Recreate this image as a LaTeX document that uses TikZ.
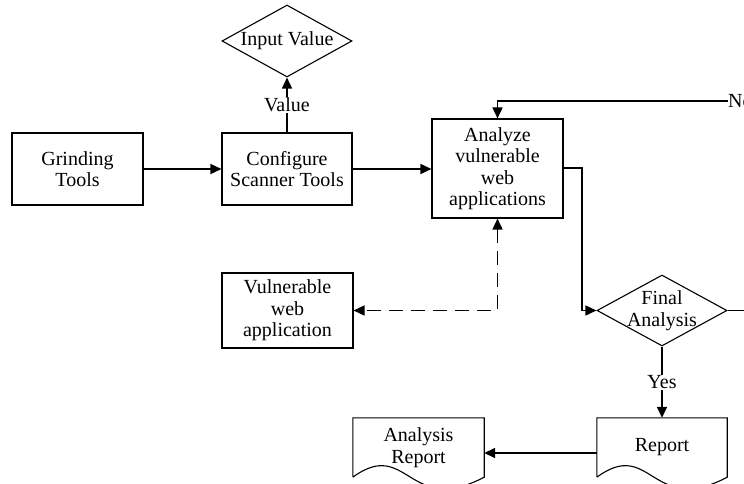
\documentclass[tikz,border=0pt]{standalone}
\usepackage{fontspec}
\setmainfont{Liberation Serif}
\usetikzlibrary{shapes.geometric,arrows.meta,calc}
\begin{document}
\begin{tikzpicture}[x=1pt,y=1pt,
  font=\fontsize{20}{21.5}\selectfont,
  boxnode/.style={draw,line width=1.1pt,rectangle,inner sep=0pt,align=center,minimum width=131pt},
  decision/.style={draw,line width=1.1pt,diamond,inner sep=0pt,minimum width=130pt,minimum height=72pt,aspect=1.8},
  dtext/.style={inner sep=0pt,align=center},
  docnode/.style={rectangle,inner sep=0pt,align=center,minimum width=131pt,minimum height=59pt},
  docline/.style={line width=1.1pt},
  conn/.style={line width=1.6pt,-{Triangle[length=11pt,width=10pt]}},
  dconn/.style={line width=1.6pt,dash pattern=on 14pt off 8pt,{Triangle[length=11pt,width=10pt]}-{Triangle[length=11pt,width=10pt]}},
  lbl/.style={fill=white,inner sep=1pt}]
\useasboundingbox (0,0) rectangle (744,-484);
\fill[white] (0,0) rectangle (744,-484);

\node[decision] (inval) at (287,-41) {};
\node[dtext] (invaltxt) at (inval) {Input Value};
\node[boxnode,minimum height=72pt] (grind) at (77.5,-169) {Grinding\\Tools};
\node[boxnode,minimum height=72pt,minimum width=130pt] (conf) at (287,-169) {Configure\\Scanner Tools};
\node[boxnode,minimum height=99pt] (analyze) at (497.5,-168.5) {Analyze\\vulnerable\\web\\applications};
\node[boxnode,minimum height=75pt] (vuln) at (287.5,-310.5) {Vulnerable\\web\\application};
\node[decision,minimum height=71pt] (final) at (662,-310.5) {};
\node[dtext] (finaltxt) at (final) {Final\\Analysis};
\node[docnode,minimum width=130pt] (report) at (662,-447.5) {Report};
\node[docnode] (arep) at (418.5,-447.5) {Analysis\\Report};
\node[anchor=west,inner sep=0pt] (nolbl) at (728,-101) {No};
\coordinate (fright) at (744,-310.5);
\coordinate (abend) at (582,-168);

% document outlines
\foreach \d/\w in {report/130,arep/131}{
  \draw[docline] (\d.south west) -- (\d.north west) -- (\d.north east) -- (\d.south east)
    .. controls ($(\d.south west)+(0.42*\w,-40)$) and ($(\d.south west)+(0.42*\w,40)$) .. (\d.south west);
}

\draw[conn] (grind.east) -- (conf.west);
\draw[conn] (conf.east) -- (analyze.west |- conf.east);
\draw[conn] (conf.north) -- node[lbl] {Value} (inval.south);
\draw[conn] (nolbl.west) -| (analyze.north);
\draw[conn] (analyze.east |- abend) -- (abend) |- (final.west);
\draw[line width=1.6pt] (final.east) -- (fright);
\draw[conn] (final.south) -- node[lbl] {Yes} (report.north);
\draw[conn] ($(report.west)+(0,-5.5)$) -- ($(arep.east)+(0,-5.5)$);
\draw[dconn] (analyze.south) |- (vuln.east);
\end{tikzpicture}
\end{document}
